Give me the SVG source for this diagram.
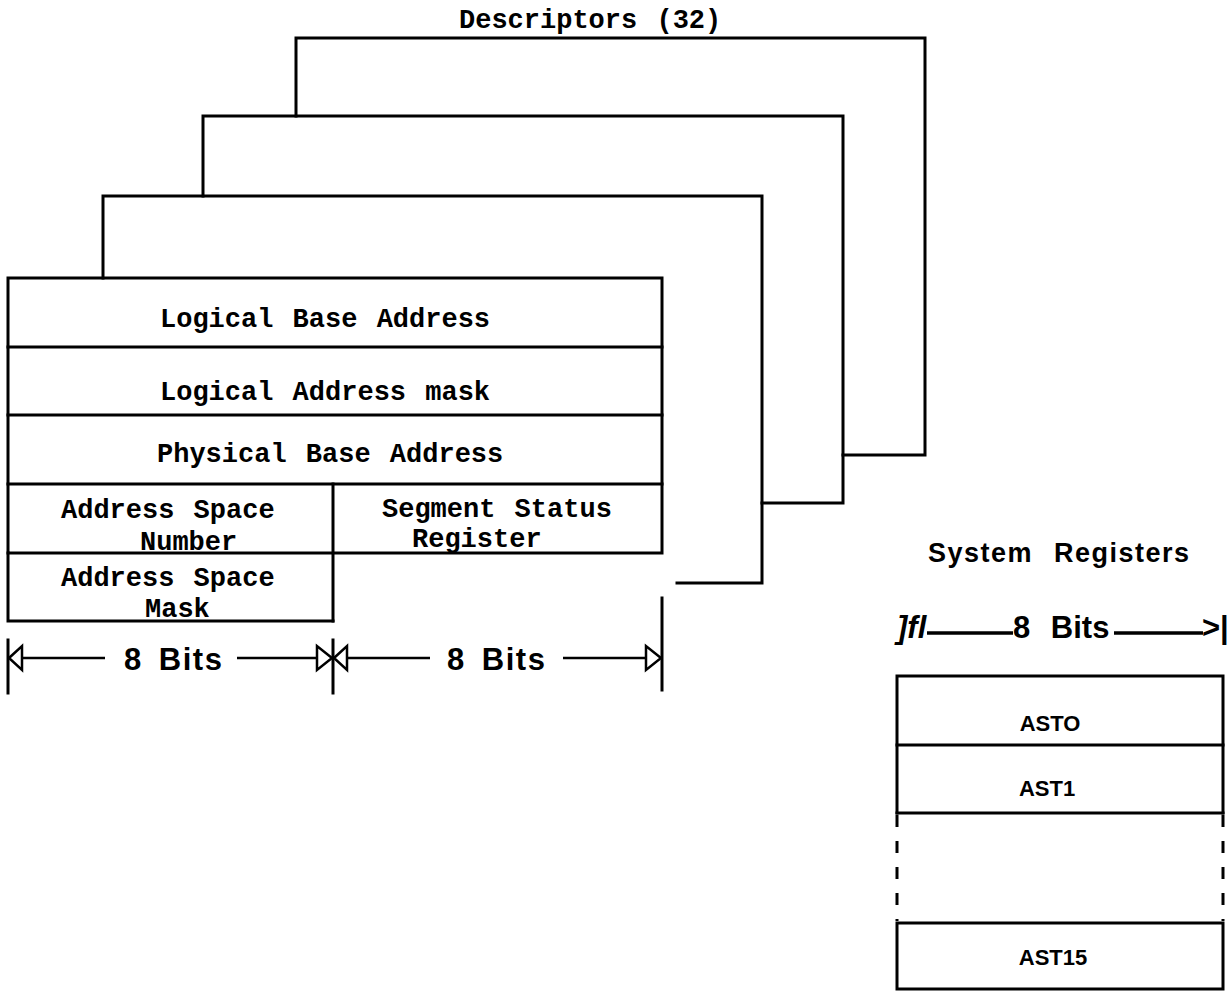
<svg xmlns="http://www.w3.org/2000/svg" width="1228" height="991" viewBox="0 0 1228 991">
<style>
.ln{fill:none;stroke:#000;stroke-width:3;stroke-linecap:square}
.thin{fill:none;stroke:#000;stroke-width:2.5}
.tri{fill:#fff;stroke:#000;stroke-width:2.5;stroke-linejoin:miter}
.mono{font-family:"Liberation Mono","Courier New",monospace;font-weight:bold;font-size:27px;fill:#000;word-spacing:3px}
.sans{font-family:"Liberation Sans",Arial,sans-serif;font-weight:bold;fill:#000}
.bits{font-size:31px;letter-spacing:1.5px;word-spacing:6px}
.reg{font-size:22px;text-anchor:middle}
</style>
<rect width="1228" height="991" fill="#fff"/>
<g id="descriptor-stack">
  <text class="mono" x="459" y="28">Descriptors (32)</text>
  <path class="ln" d="M296,116 V38 H925 V455 H843"/>
  <path class="ln" d="M203,196 V116 H843 V503 H762"/>
  <path class="ln" d="M103,278 V196 H762 V583 H677"/>
</g>
<g id="descriptor-front">
  <rect class="ln" x="8" y="278" width="654" height="275"/>
  <line class="ln" x1="8" y1="347" x2="662" y2="347"/>
  <line class="ln" x1="8" y1="415" x2="662" y2="415"/>
  <line class="ln" x1="8" y1="484" x2="662" y2="484"/>
  <line class="ln" x1="333" y1="484" x2="333" y2="621"/>
  <path class="ln" d="M8,553 V621 H333"/>
  <text class="mono" x="160" y="327">Logical Base Address</text>
  <text class="mono" x="160" y="400">Logical Address mask</text>
  <text class="mono" x="157" y="462">Physical Base Address</text>
  <text class="mono" x="61" y="518">Address Space</text>
  <text class="mono" x="140" y="550">Number</text>
  <text class="mono" x="382" y="517">Segment Status</text>
  <text class="mono" x="412" y="547">Register</text>
  <text class="mono" x="61" y="586">Address Space</text>
  <text class="mono" x="145" y="617">Mask</text>
</g>
<g id="connectors">
  <line class="ln" x1="8" y1="640" x2="8" y2="693"/>
  <line class="ln" x1="333" y1="640" x2="333" y2="693"/>
  <line class="ln" x1="662" y1="598" x2="662" y2="690"/>
  <line class="thin" x1="22" y1="658" x2="105" y2="658"/>
  <line class="thin" x1="237" y1="658" x2="317" y2="658"/>
  <line class="thin" x1="347" y1="658" x2="430" y2="658"/>
  <line class="thin" x1="563" y1="658" x2="645" y2="658"/>
  <polygon class="tri" points="9,658 22,646 22,670"/>
  <polygon class="tri" points="332,658 317,646 317,670"/>
  <polygon class="tri" points="334,658 347,646 347,670"/>
  <polygon class="tri" points="661,658 646,646 646,670"/>
  <line x1="927" y1="633" x2="1013" y2="633" stroke="#000" stroke-width="3.5"/>
  <line x1="1114" y1="633" x2="1203" y2="633" stroke="#000" stroke-width="3.5"/>
</g>
<g id="bit-labels">
  <text class="sans bits" x="124" y="670">8 Bits</text>
  <text class="sans bits" x="447" y="670">8 Bits</text>
</g>
<g id="system-registers">
  <text class="sans" x="928" y="562" font-size="27" letter-spacing="1.5" word-spacing="12">System Registers</text>
  <text class="sans" x="897" y="638" font-size="31" font-style="italic">]fl</text>
  <text class="sans" x="1013" y="638" font-size="31" word-spacing="12">8 Bits</text>
  <text class="sans" x="1202" y="638" font-size="31">&gt;|</text>
  <path class="ln" d="M897,813 V676 H1223 V813"/>
  <line class="ln" x1="897" y1="745" x2="1223" y2="745"/>
  <line class="ln" x1="897" y1="813" x2="1223" y2="813"/>
  <line x1="897" y1="815" x2="897" y2="921" stroke="#000" stroke-width="3" stroke-dasharray="12,14"/>
  <line x1="1223" y1="815" x2="1223" y2="921" stroke="#000" stroke-width="3" stroke-dasharray="12,14"/>
  <path class="ln" d="M897,923 H1223 V989 H897 Z"/>
  <text class="sans reg" x="1050" y="731">ASTO</text>
  <text class="sans reg" x="1047" y="796">AST1</text>
  <text class="sans reg" x="1053" y="965">AST15</text>
</g>
</svg>
